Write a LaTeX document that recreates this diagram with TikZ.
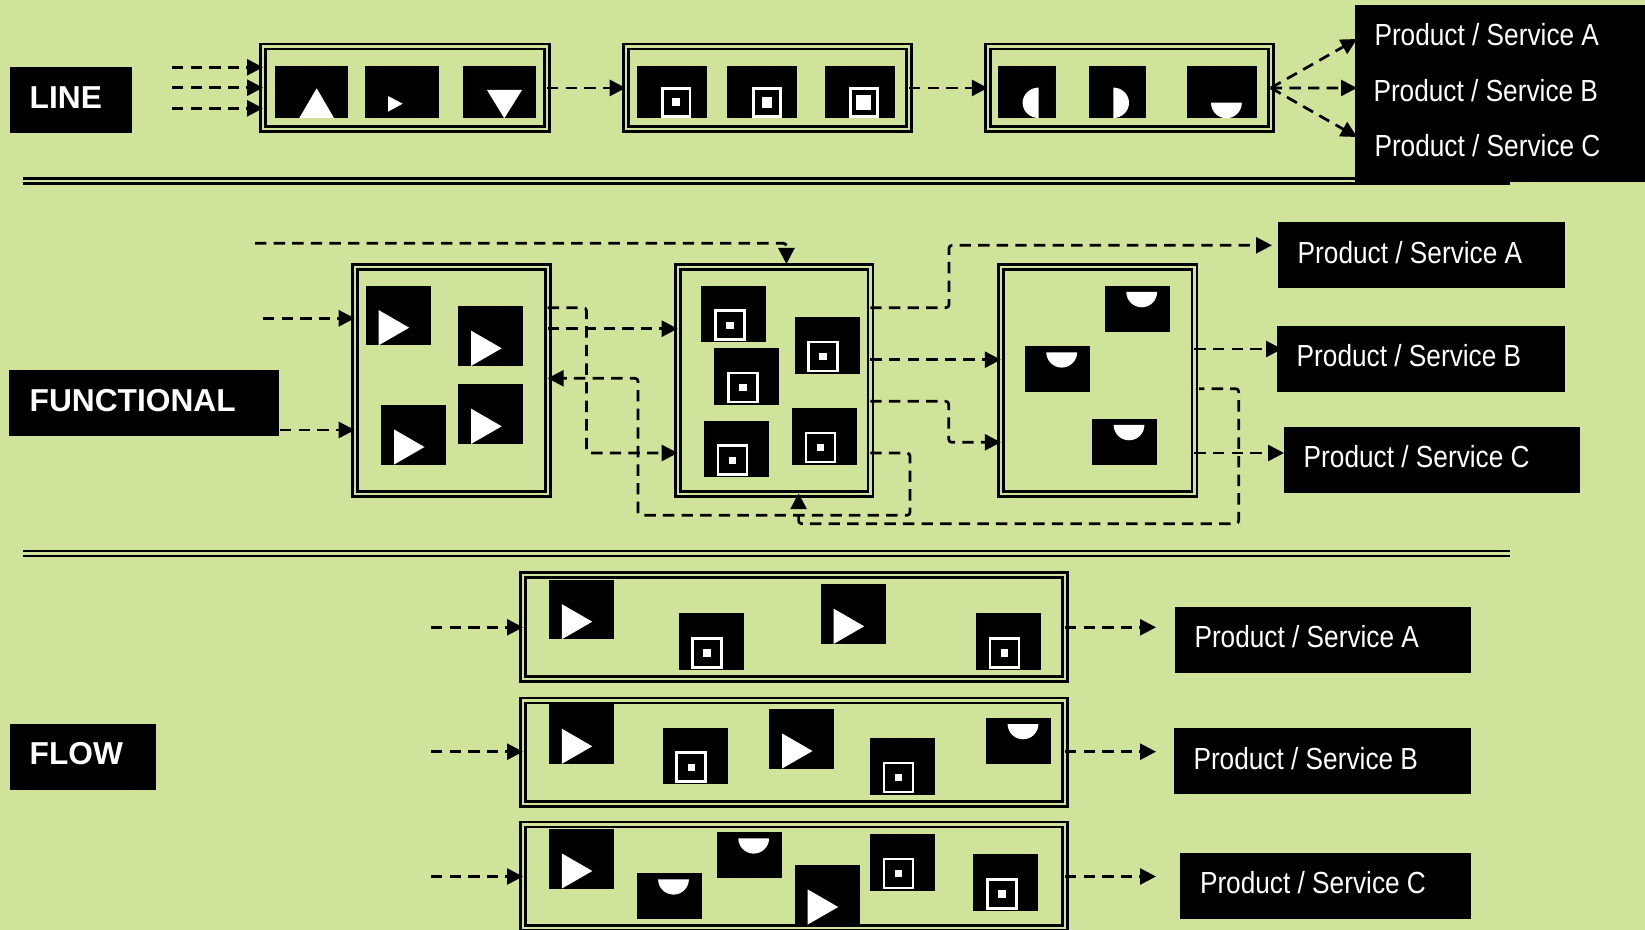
\documentclass[tikz,border=0pt]{standalone}
\usepackage{fontspec}
\setmainfont{Liberation Sans}
\newfontfamily\prodfont[FakeStretch=0.86]{Liberation Sans}
\usetikzlibrary{arrows.meta}
\definecolor{bgc}{HTML}{CFE39B}
\tikzset{
  framebox/.style={draw=black,line width=1.3pt,double=bgc,double distance=1.2pt,inner sep=0pt,outer sep=0pt},
  blackbox/.style={fill=black,draw=none,inner sep=0pt,outer sep=0pt},
  prodtext/.style={text=white,inner sep=0pt,outer sep=0pt,anchor=base west,font=\prodfont\fontsize{15.25}{18}\selectfont},
  titletext/.style={text=white,inner sep=0pt,outer sep=0pt,anchor=base west,font=\bfseries\fontsize{15.85}{18}\selectfont},
  conn/.style={draw=black,line width=1.35pt,dash pattern=on 5.7pt off 3.6pt,rounded corners=1.5pt,-{Triangle[length=8pt,width=8pt]}},
  sepline/.style={draw=black,line width=1.3pt},
  ringline/.style={draw=white,line width=1.4pt},
}
\newcommand{\frm}[5]{\node[framebox,minimum width={(#4-#2-2)*0.5pt},minimum height={(#5-#3-0.6)*0.5pt}] (#1) at ({(#2+#4)/2},{(#3+#5)/2}) {};}
\newcommand{\bbox}[5]{\node[blackbox,minimum width={(#4-#2)*0.5pt},minimum height={(#5-#3)*0.5pt}] (#1) at ({(#2+#4)/2},{(#3+#5)/2}) {};}
\newcommand{\playsq}[2]{\begin{scope}[shift={(#1,#2)}]\fill[black] (0,0) rectangle (65,59.6);\fill[white] (13,24.4) -- (13,59.6) -- (43.5,42) -- cycle;\end{scope}}
\newcommand{\ringsq}[2]{\begin{scope}[shift={(#1,#2)}]\fill[black] (0,0) rectangle (65,56.6);\draw[ringline] (14,25) rectangle (43,54);\fill[white] (24.8,36) rectangle (32.2,43.4);\end{scope}}
\newcommand{\halfsq}[2]{\begin{scope}[shift={(#1,#2)}]\fill[black] (0,0) rectangle (64.7,46);\fill[white] (21.3,6.3) arc[start angle=180,end angle=360,x radius=7.7pt,y radius=7.65pt] -- cycle;\end{scope}}
\begin{document}
\begin{tikzpicture}[x=0.5pt,y=-0.5pt]
\useasboundingbox (0,0) rectangle (1645,930);
\clip (0,0) rectangle (1645,930);
\fill[bgc] (0,0) rectangle (1645,930);

% separators
\coordinate (sa1) at (22.5,178.6); \coordinate (sa2) at (1509.6,178.6);
\coordinate (sb1) at (22.5,183.6); \coordinate (sb2) at (1509.6,183.6);
\coordinate (sc1) at (22.5,551); \coordinate (sc2) at (1509.6,551);
\coordinate (sd1) at (22.5,556); \coordinate (sd2) at (1509.6,556);
\draw[sepline] (sa1) -- (sa2); \draw[sepline] (sb1) -- (sb2);
\draw[sepline] (sc1) -- (sc2); \draw[sepline] (sd1) -- (sd2);

% titles
\bbox{tline}{10}{67}{132}{133}
\node[titletext] (tlinet) at (29.7,108.3) {LINE};
\bbox{tfunc}{9}{370}{279}{436}
\node[titletext] (tfunct) at (29.7,411.3) {FUNCTIONAL};
\bbox{tflow}{10}{724}{156}{790}
\node[titletext] (tflowt) at (29.7,764.7) {FLOW};

% LINE frames
\frm{la}{262}{46.4}{548}{129.5}
\frm{lb}{624.7}{46.4}{910}{129.5}
\frm{lc}{986.8}{46.4}{1271.8}{129.5}

% LINE squares
\fill[black] (274.7,66) rectangle (348,118.3);
\fill[white] (299.3,118) -- (334,118) -- (316.7,88.3) -- cycle;
\fill[black] (365,66) rectangle (439,118.3);
\fill[white] (388,96) -- (388,111.7) -- (402.7,103.7) -- cycle;
\fill[black] (462.7,66) rectangle (536,118.3);
\fill[white] (487,90) -- (522,90) -- (504.3,118.3) -- cycle;

\fill[black] (636.7,66) rectangle (706.7,118.3);
\draw[ringline] (662.8,88.4) rectangle (690,116.4);
\fill[white] (672.3,98.3) rectangle (680,106);
\fill[black] (727.3,66) rectangle (797.3,118.3);
\draw[ringline] (753.4,88.4) rectangle (780.6,116.4);
\fill[white] (761.7,97) rectangle (772.3,107.7);
\fill[black] (824.7,66) rectangle (894.7,118.3);
\draw[ringline] (850.4,88.4) rectangle (877.6,116.4);
\fill[white] (856.3,95.3) rectangle (871.3,110);

\fill[black] (998.4,66) rectangle (1055.7,118.3);
\fill[white] (1038.6,118) arc[start angle=270,end angle=90,x radius=8pt,y radius=7.6pt] -- cycle;
\fill[black] (1089.3,66) rectangle (1146,118.3);
\fill[white] (1113.3,118) arc[start angle=-90,end angle=90,x radius=7.85pt,y radius=7.6pt] -- cycle;
\fill[black] (1186.7,66) rectangle (1256.6,118.3);
\fill[white] (1211,102.7) arc[start angle=180,end angle=360,x radius=7.7pt,y radius=7.8pt] -- cycle;

% LINE connectors
\coordinate (lin1) at (172,67.3); \coordinate (lin2) at (172,87.7); \coordinate (lin3) at (172,108.3);
\draw[conn] (lin1) -- (la.west |- lin1);
\draw[conn] (lin2) -- (la.west |- lin2);
\draw[conn] (lin3) -- (la.west |- lin3);
\draw[conn] (la.east) -- (lb.west);
\draw[conn] (lb.east) -- (lc.west);

% LINE outputs
\bbox{lout}{1355}{5}{1650}{181.7}
\node[prodtext] (loutA) at (1374.5,45.8) {Product / Service A};
\node[prodtext] (loutB) at (1373.5,101.8) {Product / Service B};
\node[prodtext] (loutC) at (1374.5,156.8) {Product / Service C};
\draw[conn] (lc.east) -- ([xshift=1pt]lout.west |- 0,39);
\draw[conn] (lc.east) -- ([xshift=1pt]lout.west |- 0,88);
\draw[conn] (lc.east) -- ([xshift=1pt]lout.west |- 0,137);

% FUNCTIONAL frames
\frm{fa}{353.7}{266.5}{548.7}{494.5}
\frm{fb}{676.7}{266.5}{871.3}{494.5}
\frm{fc}{999.8}{266.5}{1195.4}{494.5}

\playsq{365.7}{285.7}
\playsq{458.2}{306.3}
\playsq{381}{405}
\playsq{458.2}{384.3}

\ringsq{701.4}{285.7}
\ringsq{794.6}{317}
\ringsq{714.3}{348}
\ringsq{704}{420.7}
\ringsq{792}{408}

\halfsq{1105}{285.7}
\halfsq{1025}{346}
\halfsq{1092.3}{418.7}

% FUNCTIONAL outputs
\bbox{foA}{1278}{222}{1565}{288}
\node[prodtext] (foAt) at (1297.7,264) {Product / Service A};
\bbox{foB}{1277}{326}{1565}{392}
\node[prodtext] (foBt) at (1296.7,366.7) {Product / Service B};
\bbox{foC}{1284}{427}{1580}{493}
\node[prodtext] (foCt) at (1303.7,467.6) {Product / Service C};

% FUNCTIONAL connectors
\coordinate (ft) at (255,243.3);
\coordinate (fl1) at (263,318.3);
\coordinate (fl2) at (280,430);
\draw[conn] (ft) -- (786.4,243.3) -- ([yshift=1.4pt]fb.north -| 786.4,0);
\draw[conn] (fl1) -- (fa.west |- fl1);
\draw[conn] (fl2) -- (fa.west |- fl2);
\draw[conn] (fa.east |- 0,307.7) -- (586.4,307.7) -- (586.4,453) -- (fb.west |- 0,453);
\draw[conn] (fa.east |- 0,328.7) -- (fb.west |- 0,328.7);
\draw[conn] (fb.east |- 0,307.7) -- (949,307.7) -- (949,245.3) -- ([xshift=-3pt]foA.west |- 0,245.3);
\draw[conn] (fb.east |- 0,359.7) -- (fc.west |- 0,359.7);
\draw[conn] (fb.east |- 0,401.3) -- (948.7,401.3) -- (948.7,442.3) -- (fc.west |- 0,442.3);
\draw[conn] (fb.east |- 0,453) -- (910,453) -- (910,515.3) -- (638,515.3) -- (638,378.3) -- (fa.east |- 0,378.3);
\draw[conn] (fc.east |- 0,349) -- ([xshift=2.5pt]foB.west |- 0,349);
\draw[conn] (fc.east |- 0,453) -- (foC.west |- 0,453);
\draw[conn,dash phase=3pt] ([xshift=2.3pt]fc.east |- 0,388.7) -- (1238.7,388.7) -- (1238.7,523.7) -- (798.6,523.7) -- ([yshift=0.5pt]fb.south -| 798.6,0);

% FLOW frames
\frm{wa}{522}{575}{1066}{679.5}
\frm{wb}{522}{700}{1066}{804}
\frm{wc}{522}{824.3}{1066}{928.3}

\playsq{548.8}{579.7}
\ringsq{678.5}{613.3}
\playsq{820.7}{584.3}
\ringsq{976}{613.3}

\playsq{548.8}{704.3}
\ringsq{662.8}{727.7}
\playsq{769}{709}
\ringsq{870}{738}
\halfsq{986.3}{717.7}

\playsq{548.8}{829}
\halfsq{636.8}{873}
\halfsq{717}{832}
\playsq{794.7}{865}
\ringsq{870}{834}
\ringsq{973.3}{854.3}

% FLOW outputs
\bbox{woA}{1175}{607}{1471}{673}
\node[prodtext] (woAt) at (1194.5,647.7) {Product / Service A};
\bbox{woB}{1174}{728}{1471}{794}
\node[prodtext] (woBt) at (1193.5,769.3) {Product / Service B};
\bbox{woC}{1180}{853}{1471}{919}
\node[prodtext] (woCt) at (1200,893.3) {Product / Service C};

% FLOW connectors
\coordinate (wi1) at (431,627.3); \coordinate (wi2) at (431,751.7); \coordinate (wi3) at (431,876.5);
\draw[conn] (wi1) -- (wa.west |- wi1);
\draw[conn] (wi2) -- (wb.west |- wi2);
\draw[conn] (wi3) -- (wc.west |- wi3);
\draw[conn,shorten >=9.5pt] (wa.east |- wi1) -- (woA.west |- wi1);
\draw[conn,shorten >=9pt] (wb.east |- wi2) -- (woB.west |- wi2);
\draw[conn,shorten >=12pt] (wc.east |- wi3) -- (woC.west |- wi3);
\end{tikzpicture}
\end{document}
